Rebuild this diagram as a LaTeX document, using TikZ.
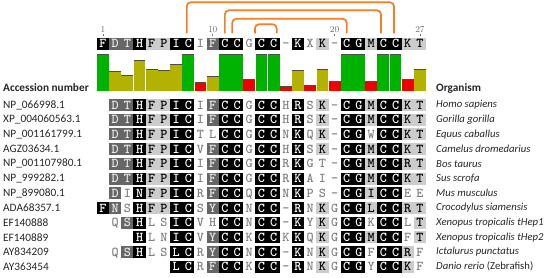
\documentclass[tikz,border=0pt]{standalone}
\usepackage{fontspec}
\newfontfamily\labfont{Carlito}
\usetikzlibrary{calc}
\definecolor{consgreen}{RGB}{0,178,0}
\definecolor{consolive}{RGB}{180,178,0}
\definecolor{consred}{RGB}{238,0,0}
\definecolor{bond}{RGB}{245,125,35}
\newcommand\resfont{\ttfamily\bfseries\fontsize{13.5}{14}\selectfont}
\tikzset{
  res/.style  = {minimum width=12.3pt, minimum height=12pt, inner sep=0pt,
                 text height=8.2pt, text depth=0pt, font=\resfont},
  bk/.style   = {res, fill=black, text=white},
  dk/.style   = {res, fill=black!60, text=black!8},
  lt/.style   = {res, fill=black!20, text=black},
  nn/.style   = {res, text=black!50},
  acc/.style  = {anchor=west, inner sep=0pt, text=black!85,
                 font=\labfont\fontsize{11.3}{13}\selectfont},
  org/.style  = {acc, font=\labfont\itshape\fontsize{10.7}{13}\selectfont},
  hdr/.style  = {acc, font=\labfont\bfseries\fontsize{11.3}{13}\selectfont},
  posnum/.style = {inner sep=0pt, text=black!60, font=\rmfamily\fontsize{9}{10}\selectfont},
  bridge/.style = {draw=bond, line width=1.7pt, rounded corners=4pt}
}
\newcommand\seqrow[2]{%
  \foreach \cn/\ltr/\shd in {#2}
    \node[\shd] (r#1-\cn) at ({90.8+12.19*\cn},{105+14.7*(#1-1)}) {\ltr};}

\begin{document}
\begin{tikzpicture}[x=1pt,y=-1pt]
  \useasboundingbox (0,0) rectangle (550,277);

  % ---- consensus ----
  \foreach \cn/\ltr/\shd in {1/F/bk,2/D/dk,3/T/dk,4/H/bk,5/F/lt,6/P/lt,7/I/bk,8/C/bk,9/I/nn,
      10/F/dk,11/C/bk,12/C/bk,13/G/nn,14/C/bk,15/C/bk,16/-/nn,17/K/bk,18/X/nn,19/K/lt,
      20/-/nn,21/C/bk,22/G/bk,23/M/lt,24/C/bk,25/C/bk,26/K/lt,27/T/lt}
    \node[\shd] (c\cn) at ({90.8+12.19*\cn},43.5) {\ltr};

  \foreach \cn in {1,10,20,27} {
    \node[posnum] (n\cn) at ({90.8+12.19*\cn},29.5) {\cn};
    \draw[black!55, line width=0.5pt] ([yshift=-0.8pt]n\cn.south) -- ++(0,2.2);
  }

  % ---- disulfide bridges ----
  \draw[bridge] ([xshift=-1.6pt,yshift=4pt]c8.north) -- ++(0,-31) -| ([xshift=-1.6pt,yshift=4pt]c25.north);
  \draw[bridge] ([yshift=4pt]c11.north) -- ++(0,-23) -| ([xshift=-2.4pt,yshift=4pt]c24.north);
  \draw[bridge] ([xshift=-4.8pt,yshift=4pt]c12.north) -- ++(0,-14.5) -| ([yshift=4pt]c21.north);
  \draw[bridge] ([xshift=-6.5pt,yshift=4pt]c14.north) -- ++(0,-9) -| ([xshift=3pt,yshift=4pt]c15.north);

  % ---- conservation bars ----
  \foreach \cn/\btop/\bcol in {1/54/consgreen,2/71/consolive,3/75/consolive,4/60/consolive,
      5/69/consolive,6/70/consolive,7/64/consolive,8/54/consgreen,9/82/consred,10/76/consolive,
      11/54/consgreen,12/54/consgreen,13/79/consred,14/54/consgreen,15/54/consgreen,16/86/consred,
      17/70/consolive,18/85/consred,19/69/consolive,20/81/consred,21/54/consgreen,22/54/consgreen,
      23/81/consred,24/54/consgreen,25/54/consgreen,26/79/consred,27/69/consolive} {
    \fill[\bcol] ({90.8+12.19*\cn-5.9},90.7) rectangle ({90.8+12.19*\cn+5.9},\btop);
    \draw[black!70, line width=0.8pt] ({90.8+12.19*\cn-5.9},\btop) -- ({90.8+12.19*\cn+5.9},\btop);
  }

  % ---- headers and labels ----
  \node[hdr] (acchead) at (3,88) {Accession number};
  \node[hdr] (orghead) at (436,88) {Organism};
  \foreach \rn/\accn/\spec in {1/NP\_066998.1/Homo sapiens,2/XP\_004060563.1/Gorilla gorilla,
      3/NP\_001161799.1/Equus caballus,4/AGZ03634.1/Camelus dromedarius,
      5/NP\_001107980.1/Bos taurus,6/NP\_999282.1/Sus scrofa,7/NP\_899080.1/Mus musculus,
      8/ADA68357.1/Crocodylus siamensis,9/EF140888/Xenopus tropicalis tHep1,
      10/EF140889/Xenopus tropicalis tHep2,11/AY834209/Ictalurus punctatus,
      12/AY363454/{Danio rerio \upshape(Zebrafish)}} {
    \node[acc] (acc\rn) at (3,{105+14.7*(\rn-1)}) {\accn};
    \node[org] (org\rn) at (436,{105+14.7*(\rn-1)}) {\spec};
  }

  % ---- alignment ----
  \seqrow{1}{2/D/dk,3/T/dk,4/H/bk,5/F/lt,6/P/lt,7/I/bk,8/C/bk,9/I/nn,10/F/dk,11/C/bk,12/C/bk,
    13/G/nn,14/C/bk,15/C/bk,16/H/nn,17/R/bk,18/S/nn,19/K/lt,20/-/nn,21/C/bk,22/G/bk,23/M/lt,
    24/C/bk,25/C/bk,26/K/lt,27/T/lt}
  \seqrow{2}{2/D/dk,3/T/dk,4/H/bk,5/F/lt,6/P/lt,7/I/bk,8/C/bk,9/I/nn,10/F/dk,11/C/bk,12/C/bk,
    13/G/nn,14/C/bk,15/C/bk,16/H/nn,17/R/bk,18/S/nn,19/K/lt,20/-/nn,21/C/bk,22/G/bk,23/M/lt,
    24/C/bk,25/C/bk,26/K/lt,27/T/lt}
  \seqrow{3}{2/D/dk,3/T/dk,4/H/bk,5/F/lt,6/P/lt,7/I/bk,8/C/bk,9/T/nn,10/L/nn,11/C/bk,12/C/bk,
    13/G/nn,14/C/bk,15/C/bk,16/N/nn,17/K/bk,18/Q/nn,19/K/lt,20/-/nn,21/C/bk,22/G/bk,23/W/nn,
    24/C/bk,25/C/bk,26/K/lt,27/T/lt}
  \seqrow{4}{2/D/dk,3/T/dk,4/H/bk,5/F/lt,6/P/lt,7/I/bk,8/C/bk,9/V/nn,10/F/dk,11/C/bk,12/C/bk,
    13/G/nn,14/C/bk,15/C/bk,16/H/nn,17/K/bk,18/S/nn,19/K/lt,20/-/nn,21/C/bk,22/G/bk,23/M/lt,
    24/C/bk,25/C/bk,26/K/lt,27/T/lt}
  \seqrow{5}{2/D/dk,3/T/dk,4/H/bk,5/F/lt,6/P/lt,7/I/bk,8/C/bk,9/I/nn,10/F/dk,11/C/bk,12/C/bk,
    13/G/nn,14/C/bk,15/C/bk,16/R/nn,17/K/bk,18/G/nn,19/T/nn,20/-/nn,21/C/bk,22/G/bk,23/M/lt,
    24/C/bk,25/C/bk,26/R/lt,27/T/lt}
  \seqrow{6}{2/D/dk,3/T/dk,4/H/bk,5/F/lt,6/P/lt,7/I/bk,8/C/bk,9/I/nn,10/F/dk,11/C/bk,12/C/bk,
    13/G/nn,14/C/bk,15/C/bk,16/R/nn,17/K/bk,18/A/nn,19/I/nn,20/-/nn,21/C/bk,22/G/bk,23/M/lt,
    24/C/bk,25/C/bk,26/K/lt,27/T/lt}
  \seqrow{7}{2/D/dk,3/I/nn,4/N/bk,5/F/lt,6/P/lt,7/I/bk,8/C/bk,9/R/nn,10/F/dk,11/C/bk,12/C/bk,
    13/Q/nn,14/C/bk,15/C/bk,16/N/nn,17/K/bk,18/P/nn,19/S/nn,20/-/nn,21/C/bk,22/G/bk,23/I/lt,
    24/C/bk,25/C/bk,26/E/nn,27/E/nn}
  \seqrow{8}{1/F/bk,2/N/dk,3/S/nn,4/H/bk,5/F/lt,6/P/lt,7/I/bk,8/C/bk,9/S/nn,10/Y/dk,11/C/bk,
    12/C/bk,13/N/nn,14/C/bk,15/C/bk,16/-/nn,17/R/bk,18/N/nn,19/K/lt,20/G/nn,21/C/bk,22/G/bk,
    23/L/lt,24/C/bk,25/C/bk,26/R/lt,27/T/lt}
  \seqrow{9}{2/Q/nn,3/S/dk,4/H/bk,5/L/nn,6/S/nn,7/I/bk,8/C/bk,9/V/nn,10/H/nn,11/C/bk,12/C/bk,
    13/N/nn,14/C/bk,15/C/bk,16/-/nn,17/K/bk,18/Y/nn,19/K/lt,20/G/nn,21/C/bk,22/G/bk,23/K/nn,
    24/C/bk,25/C/bk,26/L/nn,27/T/lt}
  \seqrow{10}{4/H/bk,5/L/nn,6/N/nn,7/I/bk,8/C/bk,9/V/nn,10/Y/dk,11/C/bk,12/C/bk,13/K/nn,
    14/C/bk,15/C/bk,16/K/nn,17/K/bk,18/Q/nn,19/K/lt,20/G/nn,21/C/bk,22/G/bk,23/M/lt,24/C/bk,
    25/C/bk,26/F/nn,27/T/lt}
  \seqrow{11}{2/Q/nn,3/S/dk,4/H/bk,5/L/nn,6/S/nn,7/L/bk,8/C/bk,9/R/nn,10/Y/dk,11/C/bk,12/C/bk,
    13/N/nn,14/C/bk,15/C/bk,16/-/nn,17/K/bk,18/N/nn,19/K/lt,20/G/nn,21/C/bk,22/G/bk,23/F/nn,
    24/C/bk,25/C/bk,26/R/lt,27/F/nn}
  \seqrow{12}{7/L/bk,8/C/bk,9/R/nn,10/F/dk,11/C/bk,12/C/bk,13/K/nn,14/C/bk,15/C/bk,16/-/nn,
    17/R/bk,18/N/nn,19/K/lt,20/G/nn,21/C/bk,22/G/bk,23/Y/nn,24/C/bk,25/C/bk,26/K/lt,27/F/nn}
\end{tikzpicture}
\end{document}
